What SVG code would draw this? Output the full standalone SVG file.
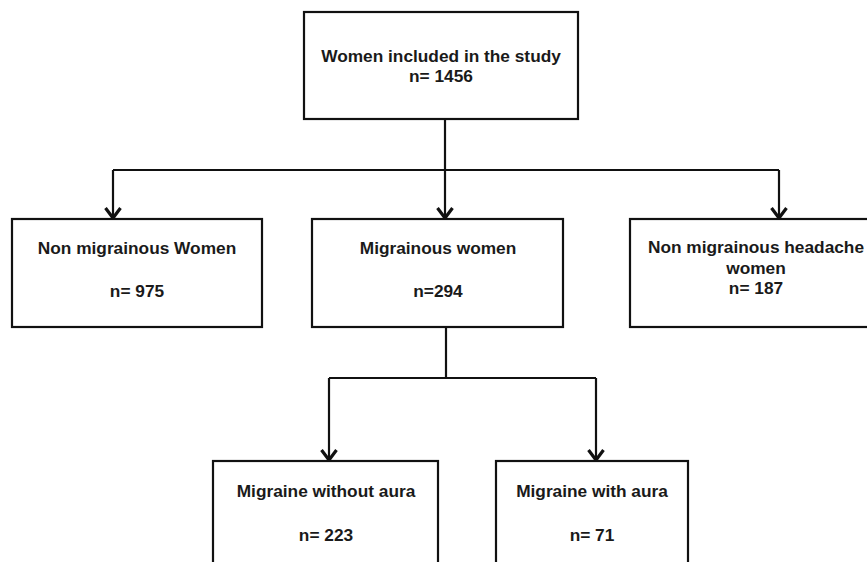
<svg xmlns="http://www.w3.org/2000/svg" width="867" height="562" viewBox="0 0 867 562">
<style>
.box{fill:#fff;stroke:#111;stroke-width:2.2}
.t{font-family:"Liberation Sans",Arial,sans-serif;font-weight:bold;font-size:17.3px;fill:#1a1a1a;text-anchor:middle}
.c{fill:none;stroke:#111;stroke-width:2.2}
</style>
<defs>
<marker id="arr" markerUnits="userSpaceOnUse" markerWidth="24" markerHeight="24" viewBox="-12 -12 24 24" refX="0" refY="0" orient="auto">
<path d="M-10,-7.5 L0,0 L-10,7.5" fill="none" stroke="#111" stroke-width="3.2" stroke-linejoin="miter"/>
</marker>
</defs>
<rect width="867" height="562" fill="#fff"/>
<g id="connectors">
<path class="c" d="M445,119 V170"/>
<path class="c" d="M113,170 H779"/>
<path class="c" d="M113,170 V218" marker-end="url(#arr)"/>
<path class="c" d="M445,170 V218" marker-end="url(#arr)"/>
<path class="c" d="M779,170 V218" marker-end="url(#arr)"/>
<path class="c" d="M446,327 V378"/>
<path class="c" d="M329,378 H596"/>
<path class="c" d="M329,378 V460" marker-end="url(#arr)"/>
<path class="c" d="M596,378 V460" marker-end="url(#arr)"/>
</g>
<g id="n-total">
<rect class="box" x="304" y="12" width="274" height="107"/>
<text class="t" x="441" y="62">Women included in the study</text>
<text class="t" x="441" y="82">n= 1456</text>
</g>
<g id="n-nonmig">
<rect class="box" x="12" y="219" width="250" height="108"/>
<text class="t" x="137" y="254">Non migrainous Women</text>
<text class="t" x="137" y="297">n= 975</text>
</g>
<g id="n-mig">
<rect class="box" x="312" y="219" width="251" height="108"/>
<text class="t" x="438" y="254">Migrainous women</text>
<text class="t" x="438" y="297">n=294</text>
</g>
<g id="n-headache">
<rect class="box" x="630" y="219" width="252" height="108"/>
<text class="t" x="756" y="253">Non migrainous headache</text>
<text class="t" x="756" y="274">women</text>
<text class="t" x="756" y="294">n= 187</text>
</g>
<g id="n-without">
<rect class="box" x="213" y="461" width="225" height="110"/>
<text class="t" x="326" y="497">Migraine without aura</text>
<text class="t" x="326" y="541">n= 223</text>
</g>
<g id="n-with">
<rect class="box" x="496" y="461" width="192" height="110"/>
<text class="t" x="592" y="497">Migraine with aura</text>
<text class="t" x="592" y="541">n= 71</text>
</g>
</svg>
